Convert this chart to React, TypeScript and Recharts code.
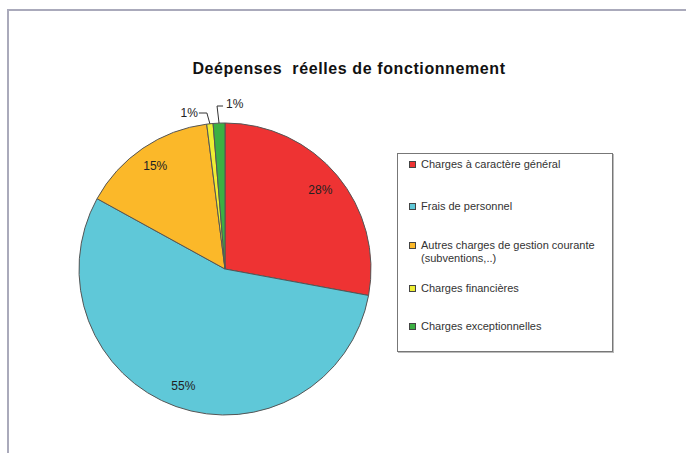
import React from 'react';
import { PieChart, Pie, Cell, Legend } from 'recharts';

const categories = [
  'Charges à caractère général',
  'Frais de personnel',
  'Autres charges de gestion courante (subventions,..)',
  'Charges financières',
  'Charges exceptionnelles',
];
const shares = [27.9, 55.1, 15.0, 0.7, 1.3];
const colors = ['#ee3333', '#5fc8d8', '#fbb829', '#eeee33', '#3cb043'];

const data = categories.map((name, i) => ({ name, value: shares[i] }));

const RAD = Math.PI / 180;
const FONT = 'Liberation Sans, Arial, sans-serif';

function renderLabel(props: any) {
  const { cx, cy, midAngle, outerRadius, percent, index } = props;
  const txt = `${Math.round(percent * 100)}%`;
  if (index < 3) {
    const r = outerRadius * 0.85;
    const x = cx + r * Math.cos(-midAngle * RAD);
    const y = cy + r * Math.sin(-midAngle * RAD);
    return (
      <text x={x} y={y} textAnchor='middle' dominantBaseline='central' fontSize={12} fontFamily={FONT} fill='#222'>
        {txt}
      </text>
    );
  }
  const x0 = cx + outerRadius * Math.cos(-midAngle * RAD);
  const y0 = cy + outerRadius * Math.sin(-midAngle * RAD);
  if (index === 3) {
    const x1 = x0 - 3;
    const y1 = cy - outerRadius - 10;
    const x2 = x1 - 8;
    return (
      <g>
        <polyline points={`${x0},${y0} ${x1},${y1} ${x2},${y1}`} fill='none' stroke='#333' strokeWidth={1} />
        <text x={x2 - 1} y={y1} textAnchor='end' dominantBaseline='central' fontSize={12} fontFamily={FONT} fill='#222'>
          {txt}
        </text>
      </g>
    );
  }
  const x1 = x0 - 2;
  const y1 = cy - outerRadius - 17;
  const x2 = x1 + 6;
  return (
    <g>
      <polyline points={`${x0},${y0} ${x1},${y1} ${x2},${y1}`} fill='none' stroke='#333' strokeWidth={1} />
      <text x={x2 + 3} y={y1 - 2} textAnchor='start' dominantBaseline='central' fontSize={12} fontFamily={FONT} fill='#222'>
        {txt}
      </text>
    </g>
  );
}

function LegendBox() {
  const rows = [164, 206, 245, 288, 326];
  return (
    <div
      style={{
        position: 'relative',
        width: 214,
        height: 197,
        border: '1px solid #777',
        boxShadow: '1px 1px 0 #bbb',
        background: '#fff',
        fontFamily: FONT,
        fontSize: 11,
        color: '#333',
      }}
    >
      {data.map((d, i) => (
        <div key={d.name} style={{ position: 'absolute', left: 11, top: rows[i] - 153 - 7, width: 200, lineHeight: '13px' }}>
          <span
            style={{
              position: 'absolute',
              left: 0,
              top: 3,
              width: 5,
              height: 5,
              background: colors[i],
              border: '1px solid #444',
            }}
          />
          <div style={{ marginLeft: 12 }}>{d.name}</div>
        </div>
      ))}
    </div>
  );
}

export default function App() {
  return (
    <div style={{ position: 'absolute', left: 0, top: 0, width: 686, height: 453, background: '#fff' }}>
      <div
        style={{
          position: 'absolute',
          left: 7,
          top: 9,
          width: 690,
          height: 450,
          borderTop: '2px solid #aaaabb',
          borderLeft: '2px solid #aaaabb',
        }}
      />
      <div
        style={{
          position: 'absolute',
          left: 0,
          width: 698,
          top: 60,
          textAlign: 'center',
          fontFamily: FONT,
          fontWeight: 'bold',
          fontSize: 16,
          letterSpacing: 0.6,
          whiteSpace: 'pre',
          color: '#111',
        }}
      >
        {'Deépenses  réelles de fonctionnement'}
      </div>
      <PieChart
        width={686}
        height={453}
        margin={{ top: 0, right: 0, bottom: 0, left: 0 }}
        style={{ position: 'absolute', left: 0, top: 0 }}
      >
        <Pie
          data={data}
          dataKey='value'
          nameKey='name'
          cx={225}
          cy={269}
          outerRadius={146}
          startAngle={90}
          endAngle={-270}
          stroke='#555'
          strokeWidth={1}
          label={renderLabel}
          labelLine={false}
          isAnimationActive={false}
        >
          {data.map((d, i) => (
            <Cell key={d.name} fill={colors[i]} />
          ))}
        </Pie>
        <Legend
          content={() => <LegendBox />}
          wrapperStyle={{ position: 'absolute', left: 397, top: 153, width: 216 }}
        />
      </PieChart>
    </div>
  );
}
